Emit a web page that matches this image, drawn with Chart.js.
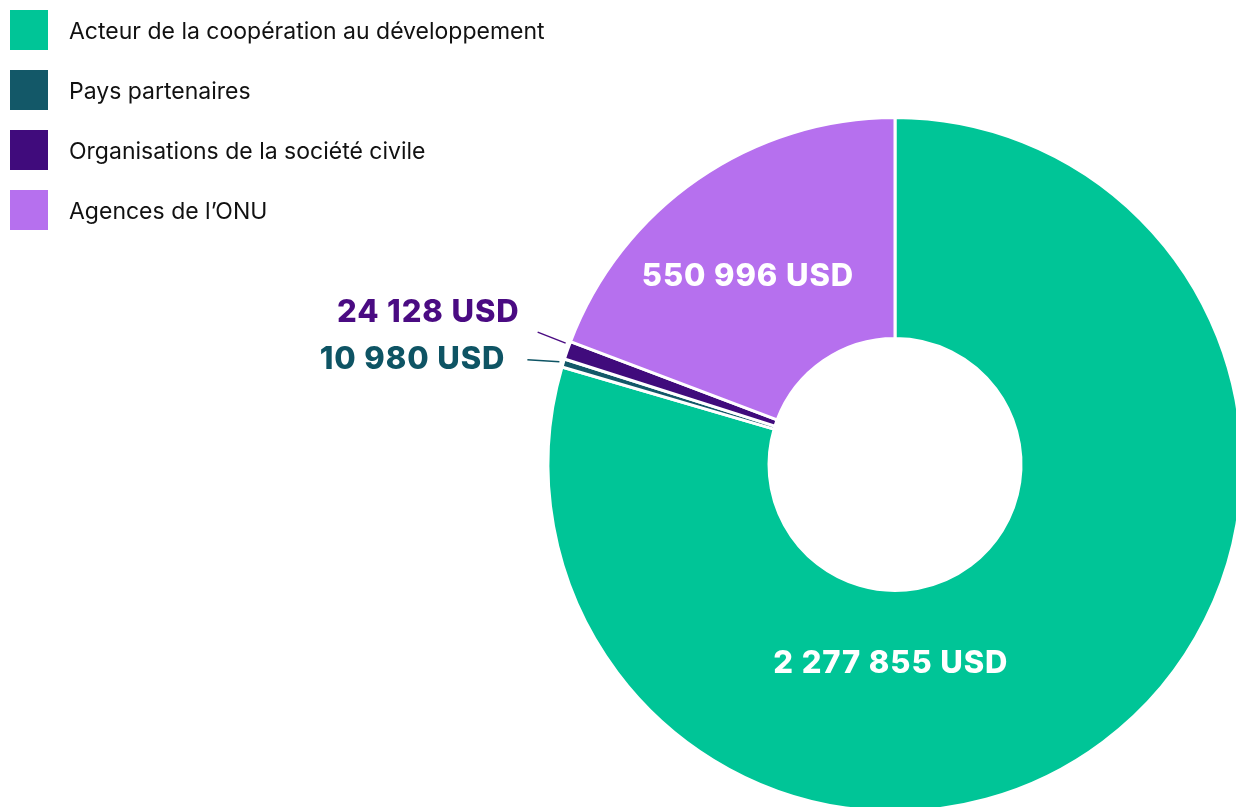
<!DOCTYPE html>
<html lang="fr">
<head>
<meta charset="utf-8">
<script src="https://cdn.jsdelivr.net/npm/chart.js@4.4.1/dist/chart.umd.min.js"></script>
<style>
  html, body { margin: 0; padding: 0; background: #ffffff; overflow: hidden; width: 1236px; height: 807px; }
  #wrap { position: absolute; left: 0; top: 0; width: 1256px; height: 825px; }
  #legend { position: absolute; left: 10px; top: 10px; margin: 0; padding: 0; list-style: none;
            font-family: Inter, "Liberation Sans", Arial, sans-serif; font-size: 23px; color: #111111; }
  #legend li { display: flex; align-items: center; height: 40px; margin-bottom: 20px; }
  #legend li span.txt { position: relative; top: 1px; }
  #legend .box { width: 38px; height: 40px; margin-right: 21px; flex: none; }
</style>
</head>
<body>
<div id="wrap"><canvas id="chart" width="1256" height="825"></canvas></div>
<ul id="legend"></ul>
<script>
// ---- data ----
const categories = [
  "Acteur de la coopération au développement",
  "Pays partenaires",
  "Organisations de la société civile",
  "Agences de l\u2019ONU"
];
const amounts = [2277855, 10980, 24128, 550996];
const sliceColors = ["#00C597", "#135868", "#400B7C", "#B670EE"];
const labelColors = ["#FFFFFF", "#0E5464", "#4A0B82", "#FFFFFF"];
const unit = "USD";

function fmt(v) {
  return String(v).replace(/\B(?=(\d{3})+(?!\d))/g, " ") + " " + unit;
}

const deg = Math.PI / 180;

const sliceLabels = {
  id: "sliceLabels",
  afterDatasetsDraw(chart, args, opts) {
    const ctx = chart.ctx;
    const meta = chart.getDatasetMeta(0);
    ctx.save();
    ctx.font = opts.font;
    if ("letterSpacing" in ctx) ctx.letterSpacing = opts.letterSpacing;
    ctx.textBaseline = "middle";
    meta.data.forEach((arc, i) => {
      const p = arc.getProps(["x", "y", "startAngle", "endAngle", "innerRadius", "outerRadius"], true);
      const cfg = opts.items[i];
      const mid = (p.startAngle + p.endAngle) / 2;
      const text = fmt(amounts[i]);
      ctx.fillStyle = labelColors[i];
      if (cfg.mode === "inside") {
        const a = (cfg.angle !== undefined ? cfg.angle * deg : mid + (cfg.angleOffset || 0) * deg);
        const r = p.innerRadius + (p.outerRadius - p.innerRadius) * cfg.rf;
        ctx.textAlign = "center";
        ctx.fillText(text, p.x + Math.cos(a) * r, p.y + Math.sin(a) * r);
      } else {
        const r = p.outerRadius + cfg.gap;
        const a = mid + (cfg.angleOffset || 0) * deg;
        const ax = p.x + Math.cos(a) * r;
        const ay = p.y + Math.sin(a) * r;
        const sx = ax + cfg.lineDx;
        const sy = ay + cfg.lineDy;
        ctx.strokeStyle = labelColors[i];
        ctx.lineWidth = 1.5;
        ctx.beginPath();
        ctx.moveTo(sx, sy);
        ctx.lineTo(ax, ay);
        ctx.stroke();
        ctx.textAlign = "right";
        ctx.fillText(text, sx + cfg.textDx, sy + cfg.textDy);
      }
    });
    ctx.restore();
  }
};

const chart = new Chart(document.getElementById("chart"), {
  type: "doughnut",
  data: {
    labels: categories,
    datasets: [{
      data: amounts,
      backgroundColor: sliceColors,
      hoverBackgroundColor: sliceColors,
      borderColor: "#FFFFFF",
      hoverBorderColor: "#FFFFFF",
      borderWidth: 3,
      hoverBorderWidth: 3
    }]
  },
  options: {
    responsive: false,
    animation: false,
    devicePixelRatio: 1,
    cutout: 126,
    layout: { padding: { left: 546.5, right: 12.5, top: 116, bottom: 12 } },
    events: [],
    plugins: {
      legend: { display: false },
      tooltip: { enabled: false },
      sliceLabels: {
        font: "800 31px Inter, 'Liberation Sans', sans-serif",
        letterSpacing: "0.9px",
        items: [
          { mode: "inside", angle: 91.2, rf: 0.33 },
          { mode: "outside", gap: 4, lineDx: -32, lineDy: -2, textDx: -22, textDy: 0 },
          { mode: "outside", gap: 4, angleOffset: 1, lineDx: -28, lineDy: -11, textDx: -18, textDy: -19 },
          { mode: "inside", angleOffset: -3.4, rf: 0.51 }
        ]
      }
    }
  },
  plugins: [sliceLabels]
});

// HTML legend built from the chart's own legend items
const ul = document.getElementById("legend");
chart.options.plugins.legend.labels.generateLabels(chart).forEach(item => {
  const li = document.createElement("li");
  const box = document.createElement("span");
  box.className = "box";
  box.style.background = item.fillStyle;
  const t = document.createElement("span");
  t.className = "txt";
  t.textContent = item.text;
  li.appendChild(box);
  li.appendChild(t);
  ul.appendChild(li);
});
</script>
</body>
</html>
